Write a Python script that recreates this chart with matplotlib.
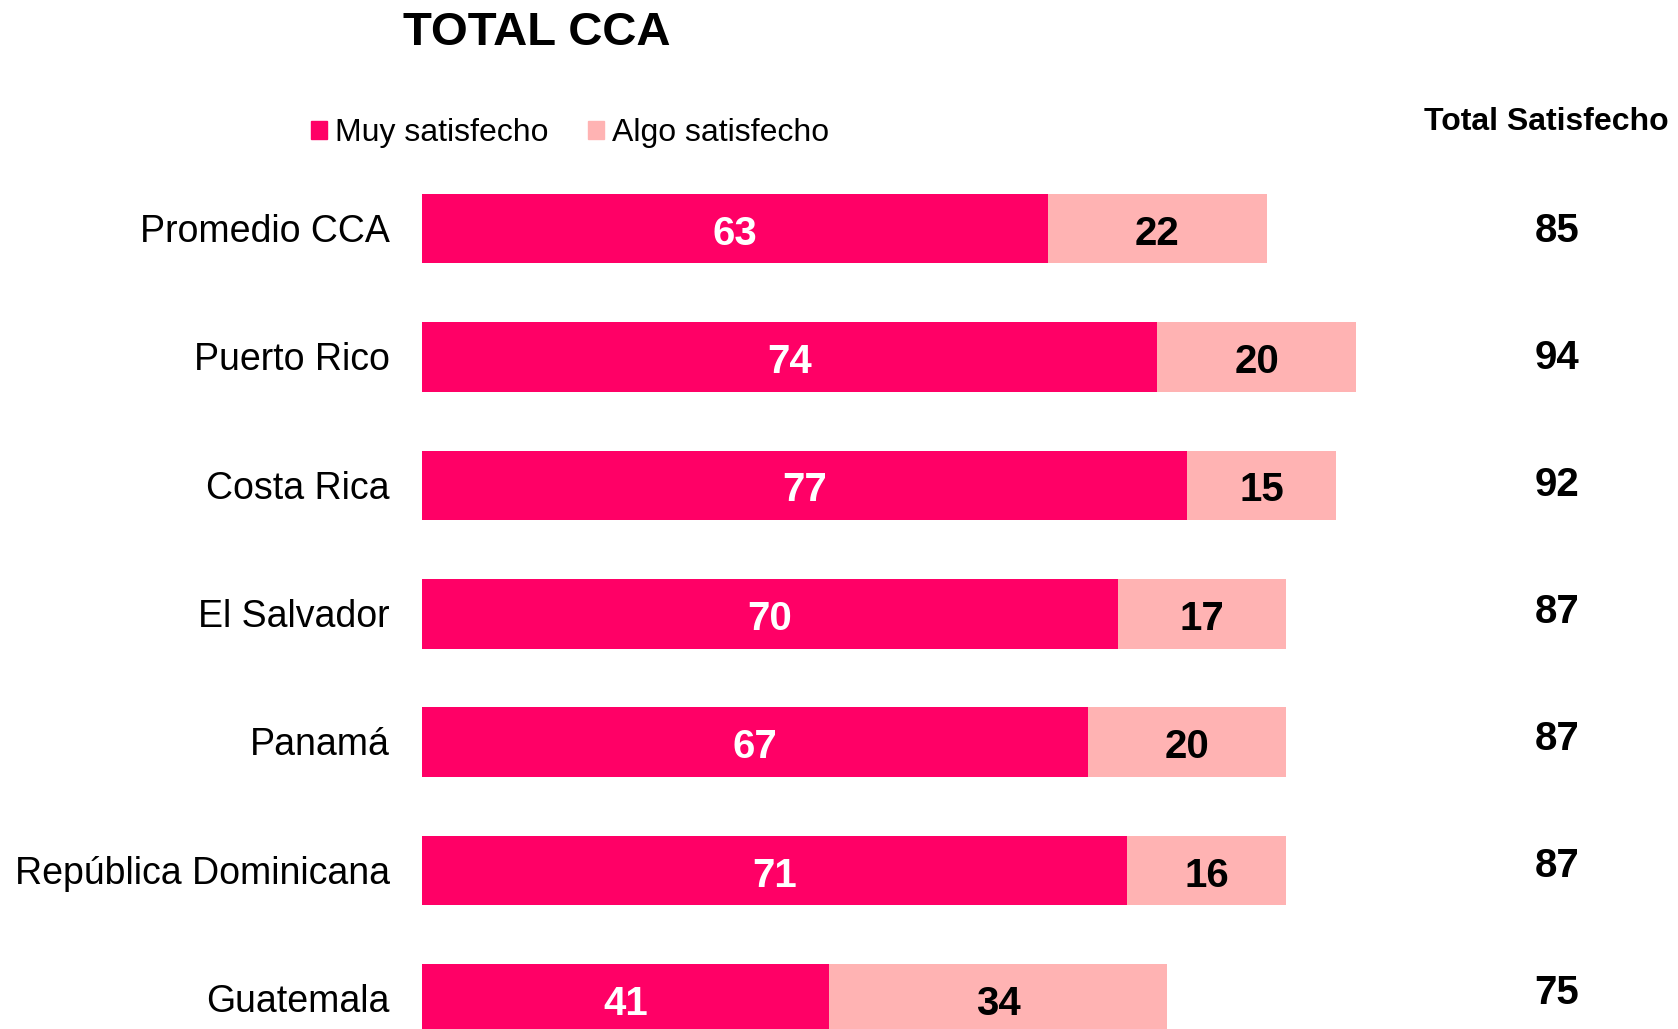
import matplotlib.pyplot as plt
from matplotlib.patches import Patch

plt.rcParams['font.family'] = ['Liberation Sans', 'DejaVu Sans']

# data
countries = ["Promedio CCA", "Puerto Rico", "Costa Rica", "El Salvador",
             "Panamá", "República Dominicana", "Guatemala"]
muy = [63, 74, 77, 70, 67, 71, 41]
algo = [22, 20, 15, 17, 20, 16, 34]
total = [85, 94, 92, 87, 87, 87, 75]

c_muy = "#FF0066"
c_algo = "#FFB3B3"

W, H = 1678, 1029
fig = plt.figure(figsize=(W / 100, H / 100), dpi=100)

# axes: bars start at x=421.7px, 9.94 px per unit; rows 128.4 px apart from y=228.5px
x0, ppu = 421.7, 9.94
xmax = 120
top_px, row0, step = 150, 228.5, 128.4
ax = fig.add_axes([x0 / W, 0, xmax * ppu / W, (H - top_px) / H])
ax.set_xlim(0, xmax)
ax.set_ylim((H - row0) / step, (top_px - row0) / step)
ax.axis("off")

ys = list(range(len(countries)))
bh = 69.6 / step
ax.barh(ys, muy, height=bh, color=c_muy, label="Muy satisfecho")
ax.barh(ys, algo, left=muy, height=bh, color=c_algo, label="Algo satisfecho")

for y, name, m, a, t in zip(ys, countries, muy, algo, total):
    ax.text(-3.2, y + 0.025, name, ha="right", va="center", fontsize=27, clip_on=False)
    ax.text(m / 2, y + 0.04, str(m), ha="center", va="center", fontsize=29,
            fontweight="bold", color="white", clip_on=False)
    ax.text(m + a / 2, y + 0.04, str(a), ha="center", va="center", fontsize=29,
            fontweight="bold", color="black", clip_on=False)
    ax.text(114.2, y + 0.02 - 0.011 * y, str(t), ha="center", va="center", fontsize=29,
            fontweight="bold", clip_on=False)

fig.text(537 / W, 1 - 33 / H, "TOTAL CCA", ha="center", va="center",
         fontsize=34, fontweight="bold")
fig.text(1546 / W, 1 - 122 / H, "Total Satisfecho", ha="center", va="center",
         fontsize=23, fontweight="bold")

handles = [Patch(color=c_muy), Patch(color=c_algo)]
fig.legend(handles, ["Muy satisfecho", "Algo satisfecho"], loc="center left",
           bbox_to_anchor=(311 / W, 1 - 133 / H), ncol=2, frameon=False,
           fontsize=23, handlelength=0.5, handleheight=0.5, handletextpad=0.25,
           columnspacing=1.25, borderpad=0, borderaxespad=0)

fig.savefig("out.png", dpi=100)
